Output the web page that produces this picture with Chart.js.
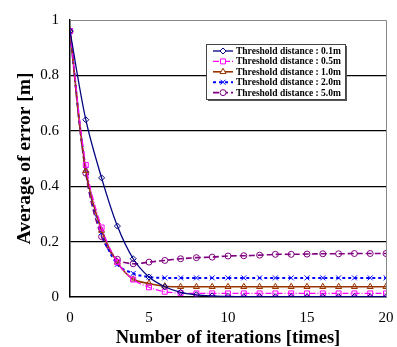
<!DOCTYPE html>
<html>
<head>
<meta charset="utf-8">
<script src="https://cdn.jsdelivr.net/npm/chart.js@4"></script>
<style>
  html, body { margin: 0; padding: 0; background: #fff; }
  #wrap { width: 397px; height: 347px; }
</style>
</head>
<body>
<div id="wrap"><canvas id="lineChart" width="397" height="347"></canvas></div>
<script>
const iterations = [0, 1, 2, 3, 4, 5, 6, 7, 8, 9, 10, 11, 12, 13, 14, 15, 16, 17, 18, 19, 20];
const seriesNames = ['Threshold distance : 0.1m', 'Threshold distance : 0.5m', 'Threshold distance : 1.0m',
                     'Threshold distance : 2.0m', 'Threshold distance : 5.0m'];
const err01 = [0.96, 0.64, 0.43, 0.256, 0.138, 0.072, 0.037, 0.017, 0.008, 0.004, 0.002, 0.001, 0.001, 0.001, 0.001, 0.001, 0.001, 0.001, 0.001, 0.001, 0.001];
const err05 = [0.96, 0.477, 0.251, 0.126, 0.063, 0.035, 0.019, 0.014, 0.013, 0.013, 0.013, 0.013, 0.013, 0.013, 0.013, 0.013, 0.013, 0.013, 0.013, 0.013, 0.013];
const err10 = [0.96, 0.456, 0.24, 0.125, 0.064, 0.049, 0.039, 0.037, 0.037, 0.037, 0.037, 0.037, 0.037, 0.037, 0.037, 0.037, 0.037, 0.037, 0.037, 0.037, 0.037];
const err20 = [0.96, 0.46, 0.233, 0.118, 0.085, 0.072, 0.069, 0.069, 0.069, 0.069, 0.069, 0.069, 0.069, 0.069, 0.069, 0.069, 0.069, 0.069, 0.069, 0.069, 0.069];
const err50 = [0.96, 0.447, 0.218, 0.136, 0.12, 0.126, 0.132, 0.138, 0.142, 0.144, 0.148, 0.149, 0.151, 0.154, 0.154, 0.155, 0.156, 0.156, 0.157, 0.157, 0.157];
const yTicks = [0, 0.2, 0.4, 0.6, 0.8, 1];
const xTicks = [0, 5, 10, 15, 20];

const serif = '"Liberation Serif", "Times New Roman", serif';

function pts(arr) {
    return iterations.map((x, i) => ({ x: x, y: arr[i] }));
}

const styles = [
    { color: '#000080', pointStyle: 'rectRot', dash: [], width: 1.3, radius: 3 },
    { color: '#FF00FF', pointStyle: 'rect', dash: [6, 2, 1, 2], width: 1.2, radius: 3.5 },
    { color: '#993300', pointStyle: 'triangle', dash: [], width: 1.6, radius: 3.5 },
    { color: '#0000FF', pointStyle: 'crossRot', dash: [3, 3], width: 2, radius: 3.5 },
    { color: '#800080', pointStyle: 'circle', dash: [6, 3], width: 1.6, radius: 3 }
];
const allData = [err01, err05, err10, err20, err50];

const datasets = allData.map((arr, i) => ({
    label: seriesNames[i],
    data: pts(arr),
    borderColor: styles[i].color,
    backgroundColor: '#ffffff',
    borderWidth: styles[i].width,
    borderDash: styles[i].dash,
    pointStyle: styles[i].pointStyle,
    pointRadius: styles[i].radius,
    pointBorderColor: styles[i].color,
    pointBackgroundColor: 'rgba(255,255,255,0)',
    pointBorderWidth: 1,
    tension: 0.35,
    fill: false
}));

// legend box inside the plot
const boxLegend = {
    id: 'boxLegend',
    afterDraw(chart) {
        const ctx = chart.ctx;
        const x0 = 206, y0 = 44, w = 139, h = 55;
        ctx.save();
        ctx.fillStyle = '#555';
        ctx.fillRect(x0 + 2, y0 + 2, w, h);
        ctx.fillStyle = '#fff';
        ctx.fillRect(x0, y0, w, h);
        ctx.strokeStyle = '#444';
        ctx.lineWidth = 1;
        ctx.strokeRect(x0 + 0.5, y0 + 0.5, w, h);
        ctx.font = 'bold 9.5px ' + serif;
        ctx.textBaseline = 'middle';
        for (let i = 0; i < seriesNames.length; i++) {
            const s = styles[i];
            const yy = y0 + 7 + i * 10.4;
            ctx.strokeStyle = s.color;
            ctx.lineWidth = s.width;
            ctx.setLineDash(s.dash);
            ctx.beginPath();
            ctx.moveTo(x0 + 7, yy);
            ctx.lineTo(x0 + 27, yy);
            ctx.stroke();
            ctx.setLineDash([]);
            ctx.lineWidth = 1;
            ctx.fillStyle = '#fff';
            Chart.helpers.drawPoint(ctx, { pointStyle: s.pointStyle, radius: s.radius, rotation: 0, borderWidth: 1 }, x0 + 17, yy);
            ctx.fillStyle = '#000';
            ctx.fillText(seriesNames[i], x0 + 30, yy + 0.5);
        }
        ctx.restore();
    }
};

// grey top/right frame of the plot
const frame = {
    id: 'frame',
    beforeDatasetsDraw(chart) {
        const a = chart.chartArea;
        const ctx = chart.ctx;
        ctx.save();
        ctx.strokeStyle = '#888';
        ctx.lineWidth = 1;
        ctx.beginPath();
        ctx.moveTo(a.left, a.top + 0.5);
        ctx.lineTo(a.right + 0.5, a.top + 0.5);
        ctx.lineTo(a.right + 0.5, a.bottom);
        ctx.stroke();
        ctx.restore();
    }
};

document.addEventListener("DOMContentLoaded", function() {
    const ctxLine = document.getElementById('lineChart').getContext('2d');

    const lineChart = new Chart(ctxLine, {
        type: 'line',
        data: { datasets: datasets },
        options: {
            responsive: false,
            animation: false,
            layout: { padding: { top: 17, right: 0, left: 0, bottom: 0 } },
            plugins: {
                legend: { display: false },
                tooltip: { enabled: false }
            },
            scales: {
                x: {
                    type: 'linear',
                    min: 0,
                    max: 20,
                    afterBuildTicks: (axis) => { axis.ticks = xTicks.map(v => ({ value: v })); },
                    afterFit: (axis) => {
                        axis.height = 50;
                        axis.paddingLeft = 0;
                        axis.paddingRight = 11;
                    },
                    grid: { display: false, drawTicks: false },
                    border: { color: '#000', width: 1.5 },
                    ticks: {
                        color: '#000',
                        padding: 12,
                        font: { family: serif, size: 15 }
                    },
                    title: {
                        display: true,
                        text: 'Number of iterations [times]',
                        color: '#000',
                        padding: { top: 0, bottom: 0 },
                        font: { family: serif, size: 18.5, weight: 'bold', lineHeight: 1 }
                    }
                },
                y: {
                    min: 0,
                    max: 1,
                    afterBuildTicks: (axis) => { axis.ticks = yTicks.map(v => ({ value: v })); },
                    afterFit: (axis) => { axis.width = 70; },
                    grid: {
                        color: (c) => (c.tick && c.tick.value > 0 && c.tick.value < 1) ? '#000' : 'rgba(0,0,0,0)',
                        lineWidth: 1.2,
                        drawTicks: false
                    },
                    border: { color: '#000', width: 1.5 },
                    ticks: {
                        color: '#000',
                        padding: 11,
                        font: { family: serif, size: 15 },
                        callback: (v) => String(v)
                    },
                    title: {
                        display: true,
                        text: 'Average of error [m]',
                        color: '#000',
                        padding: { top: 15, bottom: 0 },
                        font: { family: serif, size: 19.5, weight: 'bold', lineHeight: 1 }
                    }
                }
            }
        },
        plugins: [frame, boxLegend]
    });
});
</script>
</body>
</html>
